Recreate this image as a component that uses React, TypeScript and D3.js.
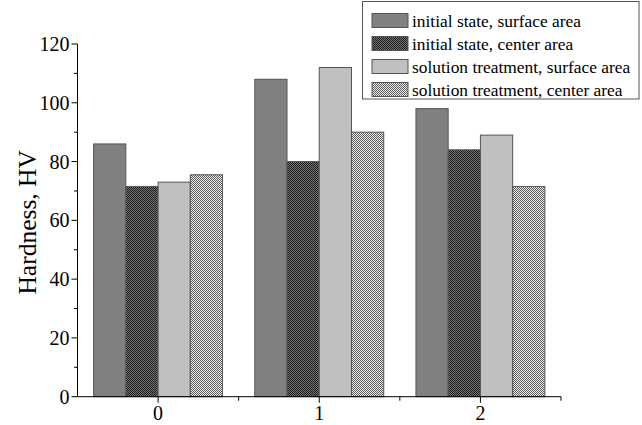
import React from "react";
import * as d3 from "d3";

const categories = ["0", "1", "2"];
const seriesNames = [
  "initial state, surface area",
  "initial state, center area",
  "solution treatment, surface area",
  "solution treatment, center area",
];
const initialSurface = [86, 108, 98];
const initialCenter = [71.5, 80, 84];
const solutionSurface = [73, 112, 89];
const solutionCenter = [75.5, 90, 71.5];
const yTicks = [0, 20, 40, 60, 80, 100, 120];
const yMinorTicks = [10, 30, 50, 70, 90, 110];

const W = 642;
const H = 425;
const left = 77.5;
const right = 561;
const top = 44;
const bottom = 396.7;

export default function App() {
  const series = [initialSurface, initialCenter, solutionSurface, solutionCenter];
  const fills = ["#808080", "url(#darkCheck)", "#c0c0c0", "url(#lightCheck)"];
  const x = d3.scaleBand<string>().domain(categories).range([left, right]).paddingInner(0.2).paddingOuter(0.1);
  const xOuter = d3.scaleBand<string>().domain(categories).range([left, right]);
  const xInner = d3.scaleBand<number>().domain([0, 1, 2, 3]).range([0, x.bandwidth()]);
  const y = d3.scaleLinear().domain([0, 120]).range([bottom, top]);
  const font = "Liberation Serif";
  const boundaries = categories.map((c) => (xOuter(c) as number) + xOuter.bandwidth());

  return (
    <svg width={W} height={H} style={{ position: "absolute", left: 0, top: 0, background: "#fff" }}>
      <defs>
        <pattern id="darkCheck" width="2" height="2" patternUnits="userSpaceOnUse">
          <rect width="2" height="2" fill="#777" />
          <rect width="1" height="1" fill="#1a1a1a" />
          <rect x="1" y="1" width="1" height="1" fill="#1a1a1a" />
        </pattern>
        <pattern id="lightCheck" width="2" height="2" patternUnits="userSpaceOnUse">
          <rect width="2" height="2" fill="#eeeeee" />
          <rect width="1" height="1" fill="#5a5a5a" />
          <rect x="1" y="1" width="1" height="1" fill="#5a5a5a" />
        </pattern>
      </defs>
      <rect width={W} height={H} fill="#fff" />
      {categories.map((c, ci) =>
        series.map((s, si) => {
          const x0 = (x(c) as number) + (xInner(si) as number);
          return (
            <rect
              key={c + "-" + si}
              x={x0}
              y={y(s[ci])}
              width={xInner.bandwidth()}
              height={bottom - y(s[ci])}
              fill={fills[si]}
              stroke="#555"
              strokeWidth={1}
            />
          );
        })
      )}
      <line x1={left} x2={left} y1={top} y2={bottom} stroke="#000" strokeWidth={1} />
      <line x1={left} x2={right} y1={bottom} y2={bottom} stroke="#000" strokeWidth={1} />
      {yTicks.map((t) => (
        <g key={"y" + t}>
          <line x1={left - 6} x2={left} y1={y(t)} y2={y(t)} stroke="#000" />
          <text x={left - 8} y={y(t)} dy="0.35em" textAnchor="end" fontFamily={font} fontSize={20} fill="#000">
            {t}
          </text>
        </g>
      ))}
      {yMinorTicks.map((t) => (
        <line key={"ym" + t} x1={left - 3.5} x2={left} y1={y(t)} y2={y(t)} stroke="#000" />
      ))}
      {categories.map((c) => {
        const cx = (x(c) as number) + x.bandwidth() / 2;
        return (
          <g key={"x" + c}>
            <line x1={cx} x2={cx} y1={bottom} y2={bottom + 6} stroke="#000" />
            <text x={cx} y={bottom + 23} textAnchor="middle" fontFamily={font} fontSize={20} fill="#000">
              {c}
            </text>
          </g>
        );
      })}
      {boundaries.map((b, i) => (
        <line key={"xm" + i} x1={b} x2={b} y1={bottom} y2={bottom + 4} stroke="#000" />
      ))}
      <text
        transform={`translate(27, ${(top + bottom) / 2 + 2}) rotate(-90)`}
        textAnchor="middle"
        dy="0.35em"
        fontFamily={font}
        fontSize={25.5}
        fill="#000"
      >
        Hardness, HV
      </text>
      <rect x={362.5} y={1.5} width={276.5} height={97.5} fill="#fff" stroke="#555" strokeWidth={1} />
      {seriesNames.map((n, i) => (
        <g key={"lg" + i}>
          <rect x={372} y={13.5 + i * 23} width={36} height={14} fill={fills[i]} stroke="#555" />
          <text x={412} y={20.5 + i * 23} dy="0.35em" fontFamily={font} fontSize={17.4} fill="#000">
            {n}
          </text>
        </g>
      ))}
    </svg>
  );
}
